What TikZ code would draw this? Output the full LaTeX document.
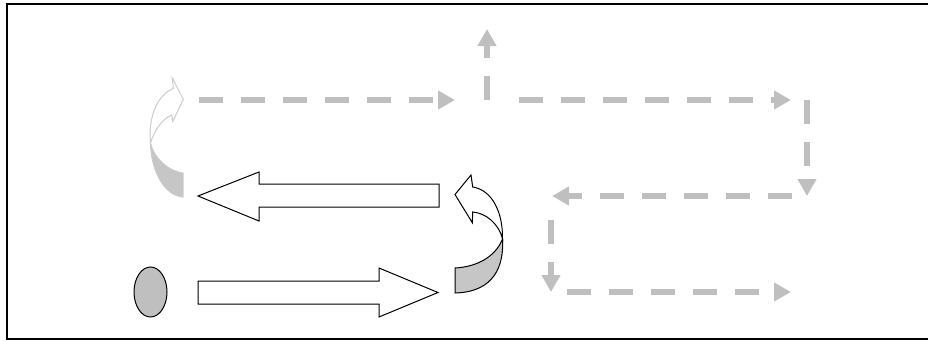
\documentclass[tikz,border=0pt]{standalone}
\usetikzlibrary{arrows.meta,shapes.geometric}
\begin{document}
\begin{tikzpicture}[x=1pt, y=-1pt,
                  pointille/.style={draw=gray!50, line width=6pt, dash pattern=on 24pt off 18pt,
                                    -{Triangle[length=17pt,width=18pt]}},
                  bloc/.style={draw=black, line width=1pt, fill=white, line join=miter},
                  courbe/.style={line width=1pt, line join=miter}]
\useasboundingbox (0,0) rectangle (928,340);
\draw[line width=1.6pt] (929,4) -- (7,4) -- (7,339) -- (929,339);
% pion et grandes fleches
\node[ellipse,draw,fill=gray!50,line width=1pt,inner sep=0pt,
      minimum width=33pt,minimum height=50pt] (pion) at (150.5,292) {};
\draw[bloc] (198,281) -- (379,281) -- (379,268) -- (438,292.5) -- (379,317)
            -- (379,304) -- (198,304) -- cycle;
\draw[bloc] (439,184) -- (259,184) -- (259,172) -- (198,196) -- (259,221)
            -- (259,207) -- (439,207) -- cycle;
% demi-tour a droite
\draw[courbe,fill=gray!45] (455,268) .. controls (475,267) and (495,258) .. (502.5,239)
      .. controls (504,265) and (495,292) .. (455,293) -- cycle;
\draw[courbe,fill=white] (502.5,239) .. controls (503,212) and (492,190) .. (472.7,187)
      -- (471,175) -- (455,194.5) -- (472.3,222.7) -- (472.7,212)
      .. controls (486,213) and (499,224) .. (502.5,239) -- cycle;
% demi-tour a gauche (grise)
\draw[courbe,draw=gray!40,fill=gray!45] (183,173) .. controls (168,171) and (154,158) .. (150.5,143)
      .. controls (151,172) and (165,196) .. (183,197) -- cycle;
\draw[courbe,draw=gray!40,fill=white] (150.5,143) .. controls (148,115) and (158,95) .. (173.3,88.3)
      -- (172.3,78) -- (183.3,99.3) -- (172.7,121.5) -- (171.7,115)
      .. controls (164,118) and (155,128) .. (150.5,143) -- cycle;
% chemin en pointilles
\foreach \nom/\xa/\ya/\xb/\yb in {h1/199/100/455/100, v1/487/100/487/29, h2/519/100/791/100,
                                 v2/807/100/807/196, h3/792/196/552/196, v3/551/220/551/292,
                                 h4/567/292/791/292}
  {\coordinate (\nom d) at (\xa,\ya);
   \coordinate (\nom f) at (\xb,\yb);
   \draw[pointille] (\nom d) -- (\nom f);};
\end{tikzpicture}
\end{document}
